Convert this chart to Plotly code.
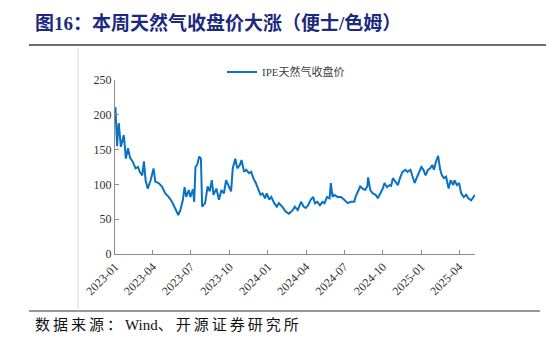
import plotly.graph_objects as go

# IPE natural gas closing price (pence/therm)
dates = [
    "2023-01-02", "2023-01-04", "2023-01-06", "2023-01-08", "2023-01-10", "2023-01-15",
    "2023-01-22", "2023-01-27", "2023-02-01", "2023-02-06", "2023-02-12", "2023-02-19",
    "2023-02-25", "2023-03-01", "2023-03-07", "2023-03-11", "2023-03-15", "2023-03-20",
    "2023-03-27", "2023-04-03", "2023-04-07", "2023-04-15", "2023-04-23", "2023-05-01",
    "2023-05-09", "2023-05-17", "2023-05-26", "2023-06-01", "2023-06-06", "2023-06-12",
    "2023-06-16", "2023-06-20", "2023-06-26", "2023-06-30", "2023-07-06", "2023-07-09",
    "2023-07-12", "2023-07-16", "2023-07-21", "2023-07-25", "2023-07-28", "2023-08-04",
    "2023-08-10", "2023-08-15", "2023-08-20", "2023-08-24", "2023-08-31", "2023-09-06",
    "2023-09-12", "2023-09-18", "2023-09-23", "2023-09-30", "2023-10-05", "2023-10-09",
    "2023-10-15", "2023-10-20", "2023-10-26", "2023-10-30", "2023-11-05", "2023-11-10",
    "2023-11-17", "2023-11-22", "2023-11-27", "2023-12-03", "2023-12-09", "2023-12-14",
    "2023-12-19", "2023-12-25", "2023-12-29", "2024-01-04", "2024-01-09", "2024-01-16",
    "2024-01-22", "2024-01-27", "2024-02-04", "2024-02-12", "2024-02-20", "2024-02-29",
    "2024-03-05", "2024-03-12", "2024-03-20", "2024-03-26", "2024-03-31", "2024-04-06",
    "2024-04-12", "2024-04-18", "2024-04-22", "2024-04-28", "2024-05-04", "2024-05-10",
    "2024-05-15", "2024-05-21", "2024-05-27", "2024-05-30", "2024-06-03", "2024-06-07",
    "2024-06-15", "2024-06-23", "2024-07-01", "2024-07-09", "2024-07-17", "2024-07-25",
    "2024-07-28", "2024-08-02", "2024-08-08", "2024-08-14", "2024-08-20", "2024-08-25",
    "2024-08-27", "2024-09-01", "2024-09-07", "2024-09-14", "2024-09-19", "2024-09-25",
    "2024-10-01", "2024-10-05", "2024-10-11", "2024-10-17", "2024-10-21", "2024-10-25",
    "2024-10-31", "2024-11-06", "2024-11-11", "2024-11-17", "2024-11-24", "2024-11-29",
    "2024-12-06", "2024-12-10", "2024-12-16", "2024-12-22", "2024-12-28", "2025-01-01",
    "2025-01-06", "2025-01-11", "2025-01-17", "2025-01-22", "2025-01-27", "2025-01-31",
    "2025-02-05", "2025-02-10", "2025-02-15", "2025-02-19", "2025-02-24", "2025-03-01",
    "2025-03-07", "2025-03-12", "2025-03-18", "2025-03-21", "2025-03-27", "2025-04-01",
    "2025-04-06", "2025-04-12", "2025-04-18", "2025-04-23", "2025-04-30", "2025-05-04",
    "2025-05-09",
]
prices = [
    211, 172, 155, 176, 188, 154,
    171, 137, 152, 138, 133, 123,
    125, 118, 113, 133, 106, 94,
    106, 123, 104, 102, 97, 87,
    82, 75, 63, 56, 63, 78,
    96, 82, 92, 82, 93, 75,
    125, 128, 140, 137, 68, 73,
    97, 90, 106, 85, 94, 78,
    92, 87, 106, 97, 90, 123,
    137, 123, 128, 135, 118, 121,
    116, 118, 109, 102, 92, 85,
    87, 80, 87, 78, 82, 73,
    68, 73, 68, 61, 58, 63,
    68, 63, 75, 68, 66, 70,
    78, 82, 73, 75, 70, 75,
    73, 82, 80, 102, 82, 85,
    82, 82, 78, 73, 75, 75,
    82, 90, 97, 94, 92, 97,
    110, 92, 87, 85, 80, 87,
    94, 102, 96, 99, 98, 109,
    104, 99, 109, 118, 121, 118,
    121, 113, 102, 111, 118, 125,
    121, 113, 121, 123, 128, 121,
    133, 141, 121, 113, 109, 111,
    94, 106, 99, 106, 99, 102,
    87, 82, 85, 80, 77, 80,
    85,
]
series_name = "IPE天然气收盘价"
y_ticks = [0, 50, 100, 150, 200, 250]
x_ticks = ["2023-01-01", "2023-04-01", "2023-07-01", "2023-10-01", "2024-01-01",
           "2024-04-01", "2024-07-01", "2024-10-01", "2025-01-01", "2025-04-01"]
x_tick_text = ["2023-01", "2023-04", "2023-07", "2023-10", "2024-01",
               "2024-04", "2024-07", "2024-10", "2025-01", "2025-04"]
title_text = "图16：本周天然气收盘价大涨（便士/色姆）"
source_parts = ["数据来源：", "Wind", "、开源证券研究所"]

W, H = 546, 337
L, R, T, B = 115, 475, 80, 254  # plot area in pixels


def px(x):
    return (x - L) / (R - L)


def py(y):
    return (B - y) / (B - T)


fig = go.Figure()
fig.add_trace(go.Scatter(
    x=dates, y=prices, mode="lines", name=series_name,
    line=dict(color="#0A72C4", width=2),
))

axis_font = dict(family="Liberation Serif, Times New Roman, serif", size=12, color="#333333")

fig.update_layout(
    width=W, height=H,
    margin=dict(l=L, r=W - R, t=T, b=H - B),
    paper_bgcolor="white", plot_bgcolor="white",
    showlegend=True,
    legend=dict(
        x=px(222), y=py(72), xanchor="left", yanchor="middle",
        orientation="h", bgcolor="rgba(0,0,0,0)",
        font=dict(family="Liberation Serif, Noto Sans CJK SC", size=11, color="#404040"),
    ),
    xaxis=dict(
        range=["2023-01-01", "2025-05-09"],
        tickvals=x_ticks, ticktext=x_tick_text, tickangle=-45,
        showgrid=False, zeroline=False,
        showline=True, linecolor="#8c8c8c", linewidth=1,
        ticks="inside", ticklen=4, tickcolor="#8c8c8c",
        tickfont=axis_font,
    ),
    yaxis=dict(
        range=[0, 250], tickvals=y_ticks,
        showgrid=False, zeroline=False,
        showline=True, linecolor="#8c8c8c", linewidth=1,
        ticks="inside", ticklen=4, tickcolor="#8c8c8c",
        tickfont=axis_font,
    ),
)

# heading, rules and source note
fig.add_annotation(
    xref="paper", yref="paper", x=px(33), y=py(23), xanchor="left", yanchor="middle",
    text="<b>" + title_text + "</b>", showarrow=False,
    font=dict(family="Liberation Serif, Noto Sans CJK SC", size=19, color="#1B2A80"),
)
spaced = '<span style="letter-spacing:3px">{}</span>'
source_html = spaced.format(source_parts[0]) + source_parts[1] + spaced.format(source_parts[2])
fig.add_annotation(
    xref="paper", yref="paper", x=px(33), y=py(325), xanchor="left", yanchor="middle",
    text=source_html, showarrow=False,
    font=dict(family="Liberation Serif, Noto Sans CJK SC", size=15, color="#111111"),
)
fig.add_shape(type="line", xref="paper", yref="paper",
              x0=px(29), x1=px(546), y0=py(45), y1=py(45),
              line=dict(color="#6e6e6e", width=2))
fig.add_shape(type="line", xref="paper", yref="paper",
              x0=px(29), x1=px(540), y0=py(311), y1=py(311),
              line=dict(color="#333333", width=1))
fig.add_shape(type="line", xref="paper", yref="paper",
              x0=px(78), x1=px(78), y0=py(48), y1=py(309),
              line=dict(color="#d4d4d4", width=1))

fig.write_html("out.html")
